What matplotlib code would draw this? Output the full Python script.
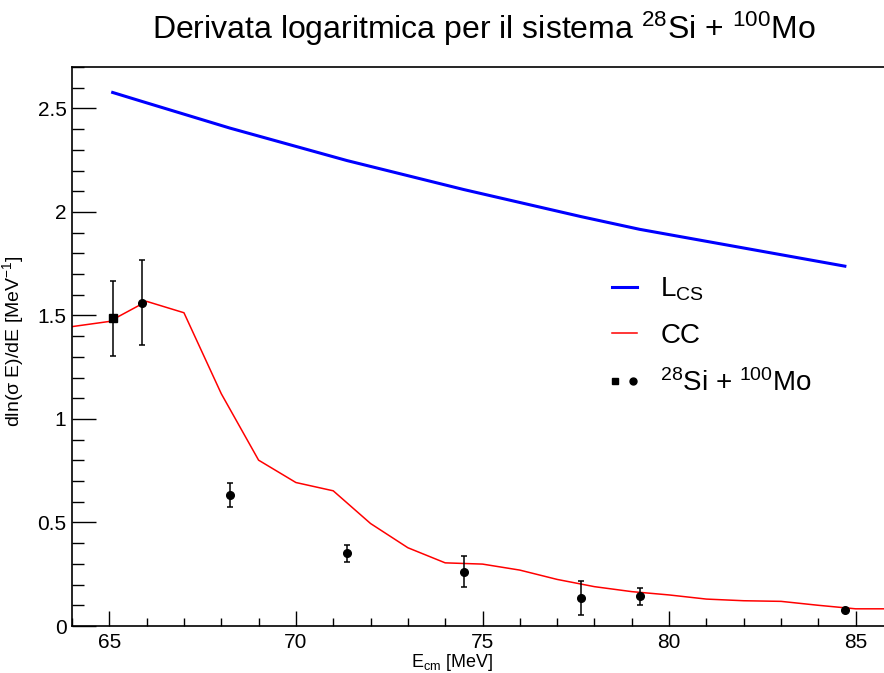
import numpy as np
import matplotlib
matplotlib.use("Agg")
import matplotlib.pyplot as plt
from matplotlib.lines import Line2D
from matplotlib.legend_handler import HandlerTuple
from matplotlib.ticker import MultipleLocator

plt.rcParams["font.family"] = ["Liberation Sans", "DejaVu Sans"]
plt.rcParams["mathtext.fontset"] = "custom"
plt.rcParams["mathtext.rm"] = "Liberation Sans"
plt.rcParams["mathtext.it"] = "Liberation Sans:italic"
plt.rcParams["mathtext.default"] = "regular"

# measured points: first one is drawn as a square, the rest as circles
e_sq = [65.09]
d_sq = [1.486]
err_sq = [0.18]
e_pts = [65.87, 68.23, 71.37, 74.50, 77.65, 79.21, 84.71]
d_pts = [1.561, 0.633, 0.351, 0.262, 0.137, 0.143, 0.077]
err_pts = [0.206, 0.058, 0.040, 0.074, 0.082, 0.042, 0.006]

# L_CS curve evaluated at the data energies
e_lcs = [65.09, 65.87, 68.23, 71.37, 74.50, 77.65, 79.21, 84.71]
d_lcs = [2.577, 2.534, 2.405, 2.248, 2.108, 1.977, 1.916, 1.738]

# coupled-channels curve
e_cc = [64, 65, 66, 67, 68, 69, 70, 71, 72, 73, 74, 75, 76, 77, 78, 79, 80, 81, 82, 83, 84, 85, 86]
d_cc = [1.446, 1.471, 1.568, 1.513, 1.122, 0.801, 0.693, 0.653, 0.495, 0.378, 0.305, 0.299,
        0.270, 0.225, 0.190, 0.166, 0.150, 0.130, 0.122, 0.119, 0.100, 0.083, 0.083]

fig = plt.figure(figsize=(8.84, 6.73), dpi=100)
ax = fig.add_axes([72 / 884, 47 / 673, 821 / 884, 559 / 673])

l_lcs, = ax.plot(e_lcs, d_lcs, color="#0000ff", lw=2.2)
l_cc, = ax.plot(e_cc, d_cc, color="#ff0000", lw=1.1)
ax.errorbar(e_sq, d_sq, yerr=err_sq, fmt="s", color="black", ms=5.5,
            elinewidth=1.1, capsize=2, capthick=1.1)
ax.errorbar(e_pts, d_pts, yerr=err_pts, fmt="o", color="black", ms=5.5,
            elinewidth=1.1, capsize=2, capthick=1.1)

ax.set_xlim(64, 86)
ax.set_ylim(0, 2.7)
ax.xaxis.set_major_locator(MultipleLocator(5))
ax.xaxis.set_minor_locator(MultipleLocator(1))
ax.yaxis.set_major_locator(MultipleLocator(0.5))
ax.yaxis.set_minor_locator(MultipleLocator(0.1))
ax.yaxis.set_major_formatter(matplotlib.ticker.FuncFormatter(lambda v, p: f"{v:g}"))
ax.tick_params(axis="x", which="major", direction="in", length=11, width=1, labelsize=15, pad=5)
ax.tick_params(axis="x", which="minor", direction="in", length=5.5, width=1)
ax.tick_params(axis="y", which="major", direction="in", length=17, width=1, labelsize=15, pad=4)
ax.tick_params(axis="y", which="minor", direction="in", length=8.5, width=1)
for s in ax.spines.values():
    s.set_linewidth(1.2)

ax.set_xlabel("E$_{cm}$ [MeV]", fontsize=13)
ax.xaxis.set_label_coords(0.463, -0.047)
ax.set_ylabel("dln(σ E)/dE [MeV$^{-1}$]", fontsize=14)
ax.yaxis.set_label_coords(-0.056, 0.51)

fig.suptitle("Derivata logaritmica per il sistema $^{28}$Si + $^{100}$Mo",
             fontsize=23, x=0.547, y=0.985)

sq = Line2D([], [], ls="none", marker="s", color="black", ms=5)
ci = Line2D([], [], ls="none", marker="o", color="black", ms=5)
ax.legend([l_lcs, l_cc, (sq, ci)], ["L$_{CS}$", "CC", "$^{28}$Si + $^{100}$Mo"],
          handler_map={tuple: HandlerTuple(ndivide=None, pad=0.4)},
          loc="upper left", bbox_to_anchor=(0.627, 0.672), frameon=False,
          fontsize=20, handlelength=0.9, handletextpad=0.85, labelspacing=0.72)

fig.savefig("out.png", dpi=100)
